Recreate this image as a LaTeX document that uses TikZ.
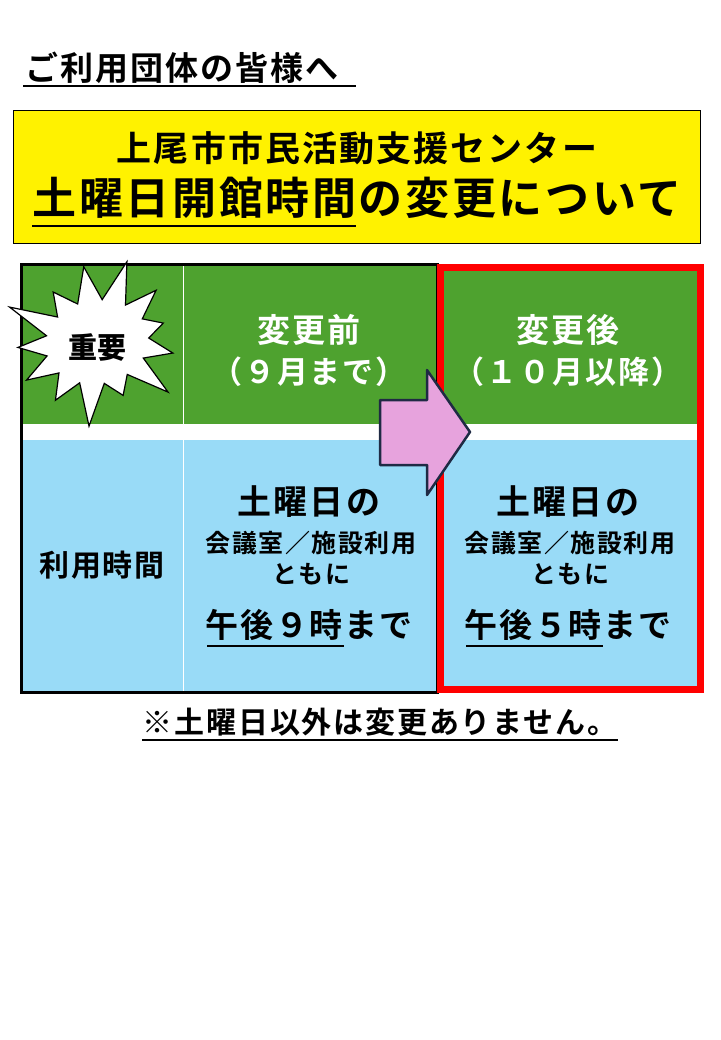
\documentclass[tikz,border=0pt]{standalone}
\usepackage{fontspec}
\setmainfont{Noto Sans CJK JP Bold}[LetterSpace=6]
\newfontfamily\heavy{Noto Sans CJK JP Black}
\usetikzlibrary{shapes.symbols}
\definecolor{grn}{HTML}{4EA22F}
\definecolor{lblue}{HTML}{99DBF7}
\definecolor{pnk}{HTML}{E7A3DD}
\definecolor{navy}{HTML}{1F2A44}
\tikzset{
  txt/.style={inner sep=0pt,anchor=center},
  wtxt/.style={txt,text=white},
  ul/.style={line width=2pt,black}
}
\newcommand{\fs}[1]{\fontsize{#1}{#1}\selectfont}
\begin{document}
\begin{tikzpicture}[x=1pt,y=-1pt]
\useasboundingbox[fill=white] (0,0) rectangle (720,1040);
% title
\node[txt,anchor=west] (title) at (25,68) {\fs{33}ご利用団体の皆様へ};
\draw[ul] (23,86) -- (356,86);
% yellow box
\node[draw=black,line width=1.2pt,fill=yellow,minimum width=687pt,minimum height=133pt,anchor=north west] (ybox) at (13,110) {};
\node[txt] (l1) at (357,148) {\fs{35}上尾市市民活動支援センター};
\node[txt] (l2) at (357,198) {\fs{44}土曜日開館時間の変更について};
\draw[ul,line width=2.5pt] (32,226) -- (356,226);
% table backgrounds
\fill[grn] (21,265) rectangle (703,424);
\fill[lblue] (21,440) rectangle (703,692);
\draw[white,line width=0.8pt] (183,265) -- (183,692);
\draw[black,line width=3pt] (21,265) rectangle (437,692);
\draw[red,line width=7pt] (440,268) rectangle (700,689);
% starburst
\node[starburst,starburst points=13,starburst point height=48pt,draw=black,line width=1.2pt,fill=white,minimum width=200pt,minimum height=180pt,rotate=10] (burst) at (97,342) {};
\node[txt] (imp) at (97,348) {\heavy\fs{29}重要};
% header texts
\node[wtxt] (b1) at (309,330) {\fs{33}変更前};
\node[wtxt] (b2) at (309,372) {\fs{31}（９月まで）};
\node[wtxt] (a1) at (568,330) {\fs{33}変更後};
\node[wtxt] (a2) at (568,372) {\fs{31}（１０月以降）};
% arrow
\draw[navy,line width=2.5pt,fill=pnk,line join=round] (380,400) -- (427,400) -- (427,370) -- (470,432) -- (427,495) -- (427,465) -- (380,465) -- cycle;
% body
\node[txt] (use) at (102,565) {\fs{30}利用時間};
\foreach \x/\h/\n in {309/９/L,568/５/R}{
  \node[txt] (s\n) at (\x,502) {\fs{34}土曜日の};
  \node[txt] (m\n) at (\x+2,543) {\fs{25}会議室／施設利用};
  \node[txt] (t\n) at (\x+2,574) {\fs{25}ともに};
  \node[txt] (p\n) at (\x,625) {\fs{33}午後\h 時まで};
  \draw[ul] (\x-102,646) -- (\x+35,646);
}
% note
\node[txt] (note) at (380,722) {\fs{30}※土曜日以外は変更ありません。};
\draw[ul] (142,740) -- (618,740);
\end{tikzpicture}
\end{document}
